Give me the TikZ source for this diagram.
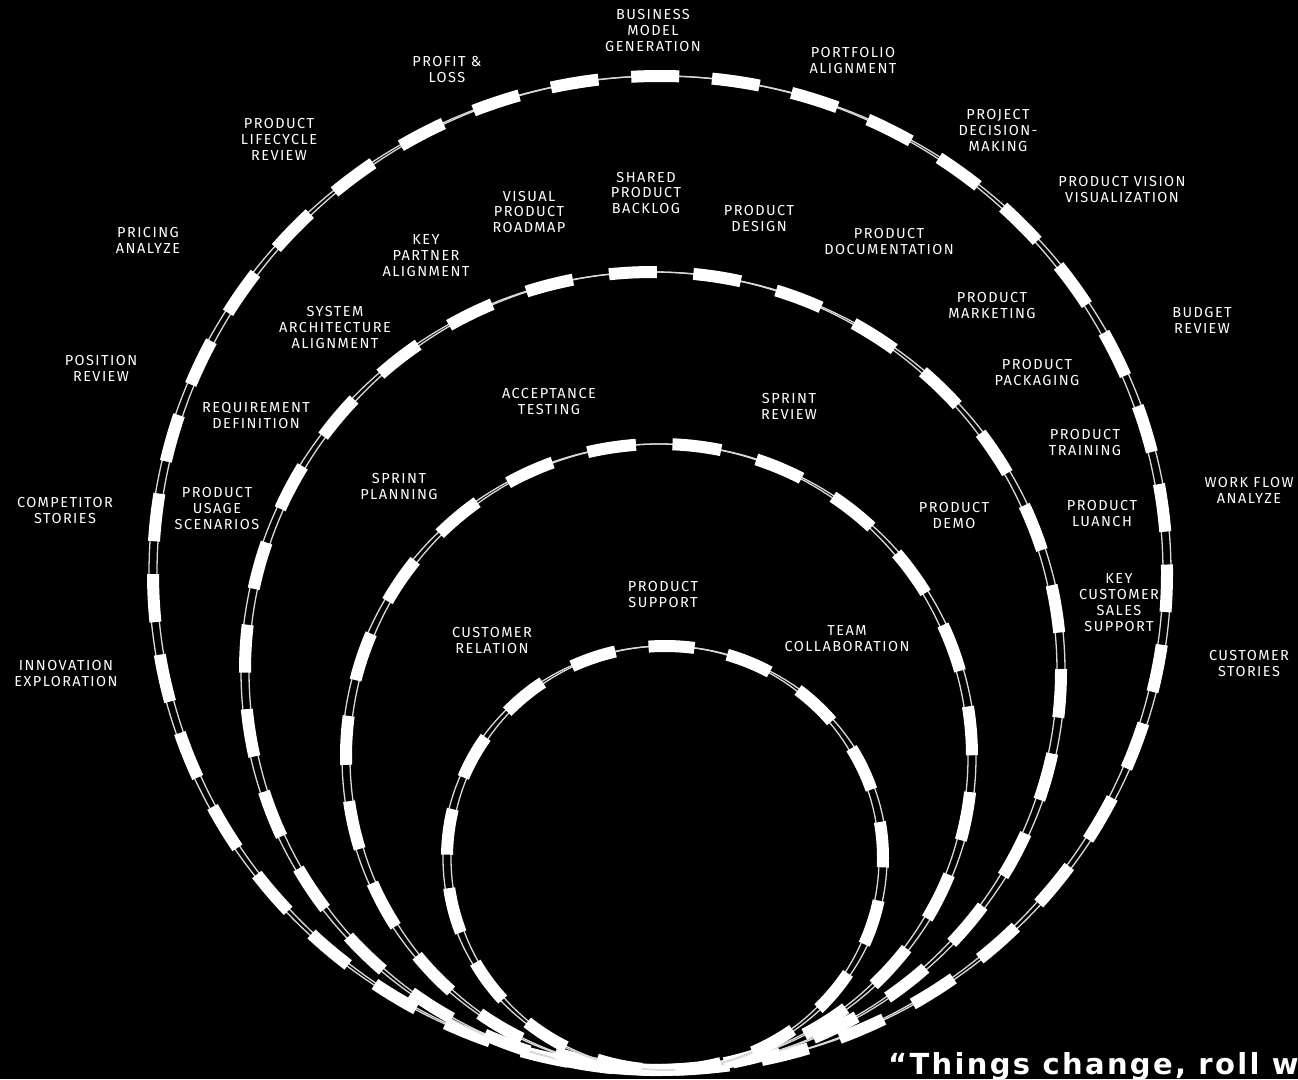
\documentclass[tikz,border=0pt]{standalone}
\usepackage{fontspec}
\setmainfont{Fira Sans}
\newfontfamily\labfont[LetterSpace=10]{Fira Sans}
\newfontfamily\quotefont[LetterSpace=8]{DejaVu Sans}
\begin{document}
\begin{tikzpicture}[x=1pt,y=-1pt,
  lab/.style={text=white,align=center,inner sep=0pt,
    font=\labfont\fontsize{14.5}{16}\selectfont},
  rail/.style={draw=white!85!black,line width=1.3pt},
  tie/.style={draw=white,line width=12pt,line cap=butt}]
\fill[black] (0,0) rectangle (1298,1079);
\useasboundingbox (0,0) rectangle (1298,1079);
\clip (0,0) rectangle (1298,1079);

% outer ring
\draw[rail] (660,573) ellipse [x radius=511pt,y radius=497pt];
\draw[rail] (660,573) ellipse [x radius=503pt,y radius=497pt];
\draw[tie,dash pattern=on 48pt off 32.9pt,dash phase=39.5pt] (660,573) ellipse [x radius=507pt,y radius=497pt];
% second ring
\draw[rail] (653,671) ellipse [x radius=412pt,y radius=399pt];
\draw[rail] (653,671) ellipse [x radius=404pt,y radius=399pt];
\draw[tie,dash pattern=on 48pt off 36.5pt,dash phase=46pt] (653,671) ellipse [x radius=408pt,y radius=399pt];
% third ring
\draw[rail] (659,757) ellipse [x radius=317pt,y radius=313pt];
\draw[rail] (659,757) ellipse [x radius=309pt,y radius=313pt];
\draw[tie,dash pattern=on 49pt off 36.5pt,dash phase=83.75pt] (659,757) ellipse [x radius=313pt,y radius=313pt];
% inner ring
\draw[rail] (665,858) ellipse [x radius=222pt,y radius=212pt];
\draw[rail] (665,858) ellipse [x radius=214pt,y radius=212pt];
\draw[tie,dash pattern=on 46pt off 33.5pt,dash phase=9.75pt] (665,858) ellipse [x radius=218pt,y radius=212pt];

% outside the outer ring
\node[lab] (bmg) at (653,31) {BUSINESS\\MODEL\\GENERATION};
\node[lab] (pfa) at (853,61) {PORTFOLIO\\ALIGNMENT};
\node[lab] (pdm) at (998,131) {PROJECT\\DECISION-\\MAKING};
\node[lab] (pvv) at (1122,190) {PRODUCT VISION\\VISUALIZATION};
\node[lab] (bud) at (1202,320) {BUDGET\\REVIEW};
\node[lab] (wfa) at (1249,490) {WORK FLOW\\ANALYZE};
\node[lab] (cst) at (1249,663) {CUSTOMER\\STORIES};
\node[lab] (pnl) at (447,70) {PROFIT \&\\LOSS};
\node[lab] (plr) at (279,139) {PRODUCT\\LIFECYCLE\\REVIEW};
\node[lab] (pra) at (148,240) {PRICING\\ANALYZE};
\node[lab] (por) at (101,368) {POSITION\\REVIEW};
\node[lab] (cms) at (65,510) {COMPETITOR\\STORIES};
\node[lab] (inx) at (66,673) {INNOVATION\\EXPLORATION};

% between outer and second ring
\node[lab] (spb) at (646,193) {SHARED\\PRODUCT\\BACKLOG};
\node[lab] (vpr) at (529,212) {VISUAL\\PRODUCT\\ROADMAP};
\node[lab] (pds) at (759,219) {PRODUCT\\DESIGN};
\node[lab] (pdc) at (889,241) {PRODUCT\\DOCUMENTATION};
\node[lab] (kpa) at (426,256) {KEY\\PARTNER\\ALIGNMENT};
\node[lab] (saa) at (335,327) {SYSTEM\\ARCHITECTURE\\ALIGNMENT};
\node[lab] (pmk) at (992,305) {PRODUCT\\MARKETING};
\node[lab] (ppk) at (1037,372) {PRODUCT\\PACKAGING};
\node[lab] (rqd) at (256,415) {REQUIREMENT\\DEFINITION};
\node[lab] (ptr) at (1085,442) {PRODUCT\\TRAINING};
\node[lab] (pus) at (217,508) {PRODUCT\\USAGE\\SCENARIOS};
\node[lab] (pla) at (1102,513) {PRODUCT\\LUANCH};
\node[lab] (kcs) at (1119,603) {KEY\\CUSTOMER\\SALES\\SUPPORT};

% between second and third ring
\node[lab] (act) at (549,401) {ACCEPTANCE\\TESTING};
\node[lab] (srv) at (789,406) {SPRINT\\REVIEW};
\node[lab] (spl) at (399,486) {SPRINT\\PLANNING};
\node[lab] (pdo) at (954,515) {PRODUCT\\DEMO};

% between third and inner ring
\node[lab] (psu) at (663,594) {PRODUCT\\SUPPORT};
\node[lab] (crl) at (492,640) {CUSTOMER\\RELATION};
\node[lab] (tco) at (847,639) {TEAM\\COLLABORATION};

% quote along the bottom edge
\node[text=white,anchor=base west,inner sep=0pt,
  font=\quotefont\bfseries\fontsize{29}{32}\selectfont] (quote) at (888,1074) {“Things change, roll w};
\end{tikzpicture}
\end{document}
